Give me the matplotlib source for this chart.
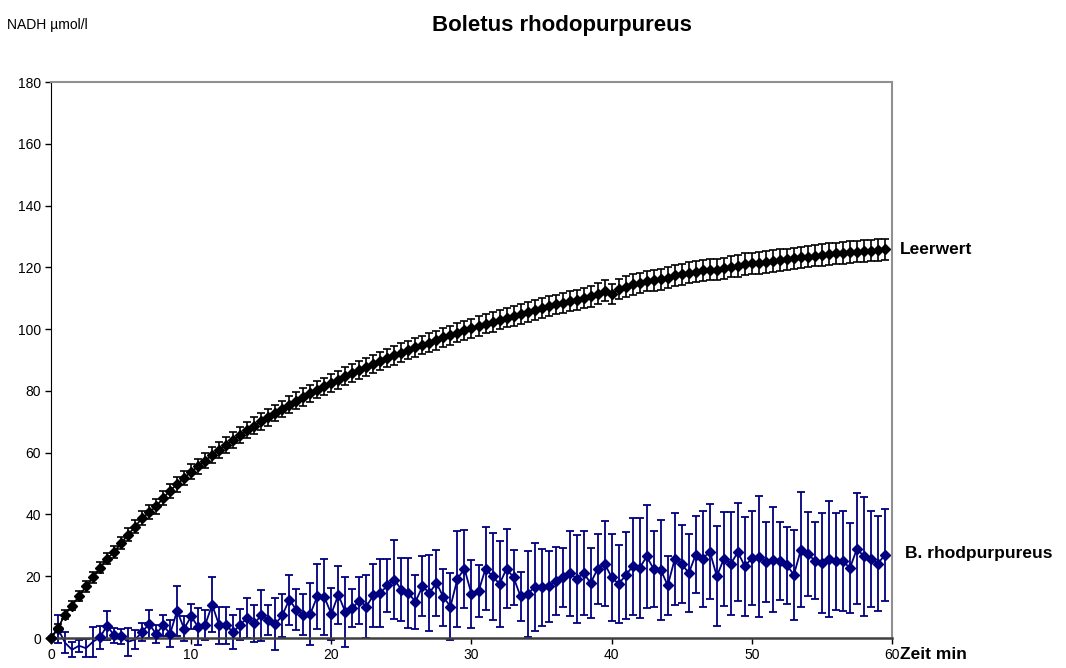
import matplotlib.pyplot as plt
import numpy as np

plt.rcParams['font.family'] = ['Liberation Sans', 'DejaVu Sans']

# time axis in minutes, one reading every 30 s
zeit = np.arange(0, 60, 0.5)

leerwert = [
    0, 3.2, 7.6, 10.5, 13.5, 16.7, 19.6, 22.7, 25.7, 27.8,
    30.7, 33.4, 36.1, 38.8, 40.7, 42.6, 45.3, 47.7, 49.8, 51.8,
    53.8, 55.6, 57.4, 59.3, 60.9, 62.6, 64.2, 65.6, 67.2, 68.7,
    70.1, 71.5, 72.8, 74.1, 75.5, 76.8, 78.0, 79.2, 80.4, 81.5,
    82.6, 83.5, 84.7, 85.7, 86.8, 87.8, 88.7, 89.7, 90.6, 91.5,
    92.4, 93.3, 94.1, 94.9, 95.6, 96.4, 97.3, 98.0, 98.8, 99.6,
    100.3, 101.0, 101.8, 102.3, 103.0, 103.7, 104.3, 104.9, 105.6, 106.2,
    106.8, 107.4, 108.0, 108.5, 109.0, 109.5, 110.1, 110.6, 111.5, 112.5,
    111.3, 113.0, 113.8, 114.5, 115.0, 115.5, 115.8, 116.2, 116.6, 117.4,
    117.8, 118.2, 118.6, 119.0, 119.3, 119.3, 119.7, 120.2, 120.5, 121.0,
    121.3, 121.5, 121.8, 122.1, 122.4, 122.6, 122.9, 123.2, 123.5, 123.8,
    124.0, 124.3, 124.5, 124.7, 125.0, 125.1, 125.3, 125.4, 125.6, 125.8,
]
leerwert_sd = [
    0, 1.2, 1.4, 1.5, 1.6, 1.7, 1.8, 1.8, 1.9, 2.0,
    2.0, 2.1, 2.1, 2.2, 2.2, 2.3, 2.3, 2.3, 2.4, 2.4,
    2.4, 2.5, 2.5, 2.5, 2.5, 2.6, 2.6, 2.6, 2.6, 2.7,
    2.7, 2.7, 2.7, 2.7, 2.8, 2.8, 2.8, 2.8, 2.8, 2.8,
    2.9, 2.9, 2.9, 2.9, 2.9, 2.9, 2.9, 3.0, 3.0, 3.0,
    3.0, 3.0, 3.0, 3.0, 3.0, 3.0, 3.1, 3.1, 3.1, 3.1,
    3.1, 3.1, 3.1, 3.1, 3.1, 3.1, 3.2, 3.2, 3.2, 3.2,
    3.2, 3.2, 3.2, 3.2, 3.2, 3.2, 3.3, 3.3, 3.3, 3.3,
    3.3, 3.3, 3.3, 3.3, 3.3, 3.3, 3.4, 3.4, 3.4, 3.4,
    3.4, 3.4, 3.4, 3.4, 3.4, 3.4, 3.4, 3.4, 3.5, 3.5,
    3.5, 3.5, 3.5, 3.5, 3.5, 3.5, 3.5, 3.5, 3.5, 3.5,
    3.5, 3.5, 3.5, 3.5, 3.5, 3.5, 3.5, 3.5, 3.5, 3.5,
]

rhodo = [
    0, 3.0, -1.5, -3.8, -2.5, -3.3, -1.2, 0.2, 4.0, 0.9,
    0.5, -1.2, -0.5, 1.9, 4.6, 1.3, 4.1, 1.4, 8.8, 3.0,
    7.0, 3.6, 4.2, 10.8, 4.1, 4.1, 1.9, 4.3, 6.5, 4.7,
    7.3, 5.9, 4.5, 7.3, 12.4, 9.2, 7.6, 7.8, 13.5, 13.3,
    7.8, 14.0, 8.4, 9.7, 12.1, 10.2, 13.8, 14.6, 17.0, 18.9,
    15.6, 14.6, 11.7, 16.7, 14.6, 17.8, 13.2, 10.2, 19.2, 22.4,
    14.2, 15.1, 22.4, 20.0, 17.5, 22.4, 19.6, 13.5, 14.2, 16.5,
    16.4, 16.7, 18.6, 19.7, 20.9, 19.2, 21.0, 17.8, 22.4, 24.1,
    19.6, 17.5, 20.3, 23.2, 22.7, 26.4, 22.3, 22.1, 17.0, 25.6,
    24.0, 21.0, 27.0, 25.7, 28.0, 20.0, 25.6, 24.0, 27.8, 23.2,
    25.9, 26.3, 24.6, 25.4, 25.0, 23.5, 20.5, 28.6, 27.2, 25.0,
    24.3, 25.7, 24.8, 24.8, 22.7, 28.9, 26.4, 25.6, 24.1, 27.0,
]
rhodo_sd = [
    0, 4.5, 3.5, 2.5, 2.0, 3.0, 4.8, 3.7, 4.6, 2.5,
    2.5, 4.6, 3.0, 3.0, 4.6, 3.0, 3.5, 4.3, 8.1, 4.0,
    4.0, 6.0, 5.0, 8.8, 6.0, 6.0, 5.5, 5.0, 6.5, 6.0,
    8.3, 4.9, 8.4, 6.9, 8.1, 6.7, 6.7, 10.0, 10.5, 12.3,
    8.4, 9.4, 11.3, 6.1, 7.7, 10.2, 10.1, 11.0, 8.5, 12.7,
    10.2, 11.3, 8.8, 9.7, 12.4, 10.8, 9.3, 10.8, 15.6, 12.6,
    11.1, 8.4, 13.4, 14.1, 13.8, 12.8, 8.9, 7.9, 14.0, 14.1,
    12.4, 11.5, 11.0, 9.6, 13.8, 14.2, 13.7, 11.3, 11.4, 13.7,
    14.2, 12.7, 14.1, 15.6, 16.1, 16.6, 12.2, 16.2, 9.4, 14.8,
    12.7, 12.6, 12.4, 15.5, 15.3, 16.2, 15.1, 16.7, 15.9, 16.0,
    15.3, 19.6, 12.8, 16.9, 12.7, 12.6, 14.6, 18.6, 13.6, 12.4,
    16.2, 18.8, 15.6, 16.2, 14.6, 18.0, 19.4, 15.6, 15.3, 14.9,
]

navy = '#000080'

fig = plt.figure(figsize=(10.66, 6.68), dpi=100)
ax = fig.add_axes([0.0478, 0.0449, 0.789, 0.8323])

rhodo = np.array(rhodo)
# B. rhodpurpureus: line + error bars, markers only where the value is not negative
eb = ax.errorbar(zeit, rhodo, yerr=rhodo_sd, color=navy, lw=1.3, elinewidth=1.3,
                 capsize=3, capthick=1.3, zorder=2)
for art in eb.lines[1] + eb.lines[2]:
    art.set_clip_on(False)
eb.lines[0].set_clip_on(False)
ax.plot(zeit, np.where(rhodo >= 0, rhodo, np.nan), ls='none', marker='D',
        ms=5.5, color=navy, zorder=3, clip_on=False)

# Leerwert
eb2 = ax.errorbar(zeit, leerwert, yerr=leerwert_sd, color='black', lw=1.3,
                  elinewidth=1.2, capsize=3, capthick=1.2, marker='D', ms=5.5,
                  zorder=4)
for art in eb2.lines[1] + eb2.lines[2]:
    art.set_clip_on(False)
eb2.lines[0].set_clip_on(False)

ax.set_xlim(0, 60)
ax.set_ylim(0, 180)
ax.set_xticks(np.arange(0, 61, 10))
ax.set_yticks(np.arange(0, 181, 20))
ax.tick_params(axis='both', direction='out', length=4, width=1, labelsize=10,
               pad=3)
ax.spines['left'].set_color('black')
ax.spines['bottom'].set_color('#404040')
ax.spines['bottom'].set_linewidth(1.8)
ax.spines['top'].set_color('#909090')
ax.spines['right'].set_color('#909090')
ax.spines['top'].set_linewidth(1.5)
ax.spines['right'].set_linewidth(1.5)
ax.set_zorder(1)

fig.text(0.527, 0.962, 'Boletus rhodopurpureus', ha='center', va='center',
         fontsize=16, fontweight='bold')
fig.text(0.007, 0.962, 'NADH µmol/l', ha='left', va='center', fontsize=10)
fig.text(0.844, 0.627, 'Leerwert', ha='left', va='center', fontsize=12.5,
         fontweight='bold')
fig.text(0.849, 0.171, 'B. rhodpurpureus', ha='left', va='center',
         fontsize=12.5, fontweight='bold')
fig.text(0.844, 0.020, 'Zeit min', ha='left', va='center', fontsize=12.5,
         fontweight='bold')

fig.savefig('out.png', dpi=100)
